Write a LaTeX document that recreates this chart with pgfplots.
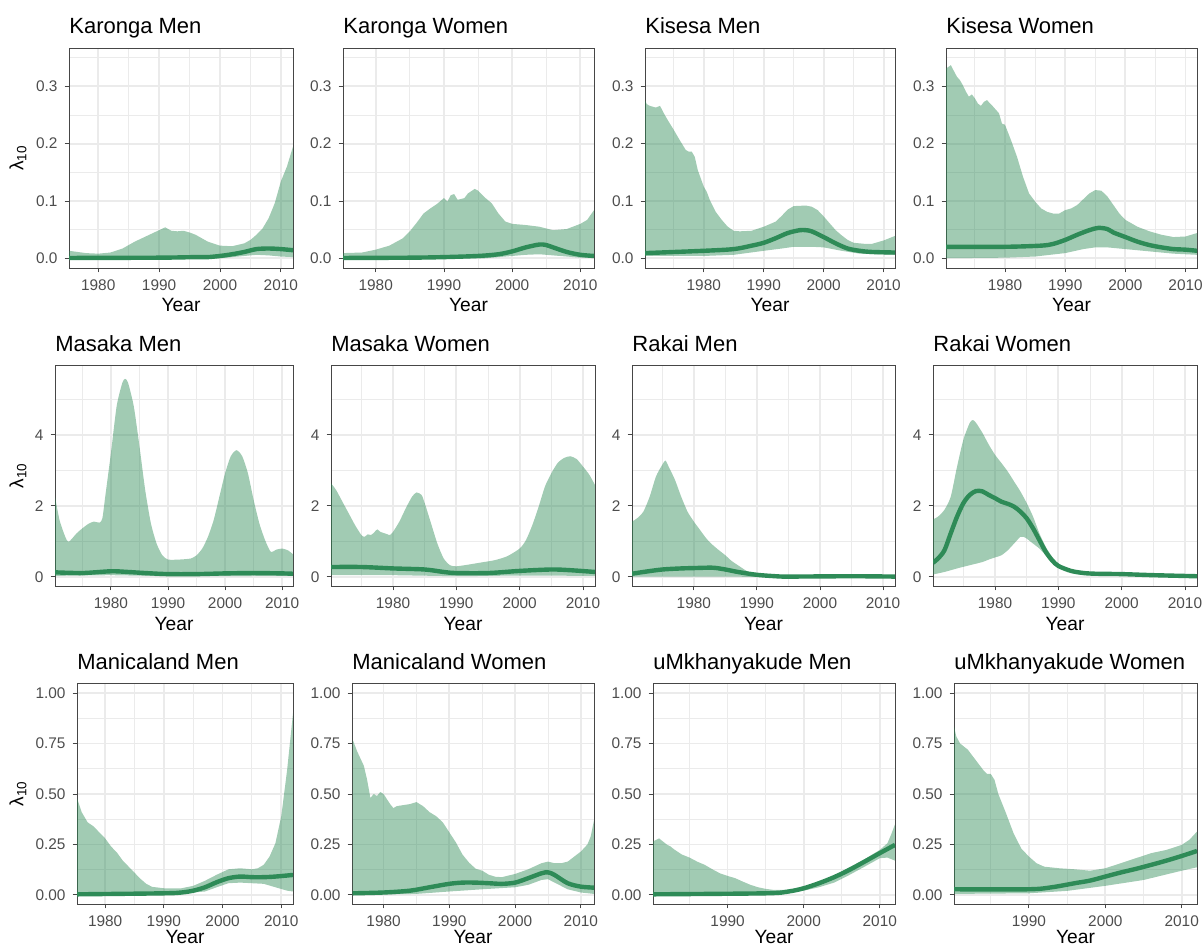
\documentclass[border=0pt]{standalone}
\usepackage{fontspec}
\setmainfont{Liberation Sans}
\usepackage{pgfplots}
\pgfplotsset{compat=1.18}
\usepgfplotslibrary{fillbetween}
\definecolor{sg}{RGB}{46,139,87}
\definecolor{gridc}{RGB}{235,235,235}
\definecolor{g20}{RGB}{70,70,70}
\definecolor{g30}{RGB}{77,77,77}
\pgfplotsset{
  panel/.style={scale only axis, anchor=south west, clip=true,
    grid=both,
    major grid style={draw=gridc, line width=0.9pt},
    minor grid style={draw=gridc, line width=0.45pt},
    axis line style={draw=g20, line width=0.45pt},
    tick style={draw=g20, line width=0.45pt},
    major tick length=2.2pt, minor tick length=0pt, tick align=outside,
    xtick pos=bottom, ytick pos=left,
    tick label style={font=\fontsize{7.7}{9}\selectfont, text=g30},
    xticklabel style={/pgf/number format/1000 sep={}},
    /pgf/number format/assume math mode=true,
    title style={at={(axis description cs:0,1)}, anchor=base west, inner sep=0pt, yshift=1pt, font=\fontsize{11}{13}\selectfont},
    xlabel={Year},
    xlabel style={at={(axis description cs:0.5,0)}, anchor=base, inner sep=0pt, yshift=-22pt, font=\fontsize{9.6}{11}\selectfont},
  },
  lowrow/.style={xlabel style={yshift=2.5pt}},
  lam/.style={ylabel={λ\textsubscript{10}},
    ylabel style={at={([xshift=-#1]axis description cs:0,0.5)}, anchor=center, inner sep=0pt, font=\fontsize{9.6}{11}\selectfont}},
  rowA/.style={ymin=-0.017, ymax=0.367, ytick={0,0.1,0.2,0.3}, minor ytick={0.05,0.15,0.25,0.35},
    yticklabel style={/pgf/number format/.cd, fixed, fixed zerofill, precision=1}},
  rowB/.style={ymin=-0.255, ymax=5.97, ytick={0,2,4}, minor ytick={1,3,5}},
  rowC/.style={ymin=-0.045, ymax=1.05, ytick={0,0.25,0.5,0.75,1}, minor ytick={0.125,0.375,0.625,0.875},
    yticklabel style={/pgf/number format/.cd, fixed, fixed zerofill, precision=2}, lowrow},
  x75/.style={xmin=1975.2, xmax=2012, xtick={1980,1990,2000,2010}, minor xtick={1985,1995,2005}},
  x70/.style={xmin=1970.2, xmax=2011.9, xtick={1980,1990,2000,2010}, minor xtick={1975,1985,1995,2005}},
  x80/.style={xmin=1980.2, xmax=2012, xtick={1990,2000,2010}, minor xtick={1985,1995,2005}},
  bnd/.style={draw=none, fill=sg, fill opacity=0.45},
  med/.style={draw=sg, line width=2.2pt, smooth, tension=0.5},
}
\begin{document}
\begin{tikzpicture}
% ---------------- Row 1 ----------------
\begin{axis}[panel, rowA, x75, lam=25.5pt, at={(34.5pt,340pt)}, width=112pt, height=110pt, title={Karonga Men}]
\addplot[name path=u1, draw=none] coordinates {(1975.2,0.013)(1978,0.009)(1980,0.008)(1982,0.010)(1984,0.017)(1986,0.029)(1988,0.039)(1989,0.044)(1990,0.049)(1991,0.054)(1992,0.048)(1993,0.047)(1994,0.048)(1995,0.045)(1996,0.041)(1998,0.029)(2000,0.022)(2002,0.021)(2004,0.026)(2005,0.032)(2006,0.041)(2007,0.052)(2008,0.070)(2009,0.096)(2010,0.134)(2011,0.160)(2012,0.195)};
\addplot[name path=l1, draw=none] coordinates {(1975.2,0)(2000,0.0)(2002,0.002)(2004,0.004)(2006,0.006)(2008,0.005)(2010,0.003)(2012,0.002)};
\addplot[bnd] fill between[of=u1 and l1];
\addplot[med] coordinates {(1975.2,0.0005)(1990,0.001)(1996,0.002)(1998,0.002)(2000,0.004)(2002,0.007)(2004,0.011)(2006,0.016)(2008,0.017)(2010,0.016)(2012,0.014)};
\end{axis}
\begin{axis}[panel, rowA, x75, at={(171.5pt,340pt)}, width=125.5pt, height=110pt, title={Karonga Women}]
\addplot[name path=u2, draw=none] coordinates {(1975.2,0.009)(1978,0.010)(1980,0.015)(1982,0.022)(1984,0.035)(1985,0.047)(1986,0.062)(1987,0.078)(1988,0.087)(1989,0.095)(1990,0.105)(1990.5,0.099)(1991,0.110)(1991.5,0.112)(1992,0.102)(1993,0.105)(1993.5,0.113)(1994.5,0.121)(1995,0.118)(1996,0.106)(1997,0.096)(1998,0.078)(1999,0.064)(2000,0.060)(2002,0.058)(2004,0.055)(2006,0.049)(2008,0.051)(2010,0.060)(2011,0.067)(2012,0.084)};
\addplot[name path=l2, draw=none] coordinates {(1975.2,0)(1996,0)(1998,0.002)(2000,0.004)(2002,0.006)(2004,0.007)(2006,0.005)(2008,0.003)(2010,0.001)(2012,0.001)};
\addplot[bnd] fill between[of=u2 and l2];
\addplot[med] coordinates {(1975.2,0.0005)(1985,0.001)(1990,0.002)(1995,0.004)(1998,0.007)(2000,0.012)(2002,0.019)(2004,0.024)(2005,0.023)(2006,0.019)(2008,0.011)(2010,0.006)(2012,0.004)};
\end{axis}
\begin{axis}[panel, rowA, x70, at={(322.5pt,340pt)}, width=125pt, height=110pt, title={Kisesa Men}]
\addplot[name path=u3, draw=none] coordinates {(1970.2,0.276)(1970.5,0.269)(1971,0.266)(1972,0.263)(1972.7,0.266)(1973.5,0.250)(1974,0.241)(1975,0.224)(1976,0.206)(1977,0.189)(1977.5,0.186)(1978,0.186)(1978.5,0.177)(1979,0.154)(1980,0.125)(1980.5,0.116)(1981,0.102)(1982,0.081)(1983,0.067)(1984,0.055)(1985,0.048)(1986,0.047)(1988,0.048)(1990,0.055)(1992,0.064)(1993,0.074)(1994,0.085)(1995,0.091)(1997,0.092)(1998,0.090)(1999,0.084)(2000,0.073)(2001,0.061)(2002,0.049)(2003,0.040)(2004,0.032)(2005,0.027)(2007,0.025)(2008,0.025)(2010,0.031)(2011.9,0.039)};
\addplot[name path=l3, draw=none] coordinates {(1970.2,0.004)(1980,0.004)(1985,0.006)(1990,0.013)(1993,0.017)(1995,0.020)(1998,0.020)(2000,0.019)(2003,0.013)(2006,0.008)(2011.9,0.006)};
\addplot[bnd] fill between[of=u3 and l3];
\addplot[med] coordinates {(1970.2,0.009)(1980,0.013)(1985,0.016)(1988,0.022)(1990,0.027)(1992,0.035)(1994,0.044)(1996,0.049)(1997,0.049)(1998,0.047)(2000,0.037)(2002,0.026)(2004,0.017)(2006,0.013)(2008,0.011)(2011.9,0.010)};
\end{axis}
\begin{axis}[panel, rowA, x70, at={(473pt,340pt)}, width=125.5pt, height=110pt, title={Kisesa Women}]
\addplot[name path=u4, draw=none] coordinates {(1970.2,0.331)(1971,0.337)(1972,0.317)(1972.5,0.311)(1973,0.302)(1973.5,0.291)(1974,0.282)(1974.5,0.286)(1975,0.279)(1975.5,0.270)(1976,0.266)(1976.5,0.273)(1977,0.276)(1978,0.265)(1979,0.253)(1979.5,0.235)(1980,0.233)(1981,0.206)(1982,0.177)(1983,0.142)(1984,0.113)(1985,0.099)(1986,0.087)(1987,0.081)(1988,0.078)(1989,0.078)(1990,0.084)(1991,0.087)(1992,0.093)(1993,0.103)(1994,0.113)(1995,0.119)(1996,0.118)(1997,0.108)(1998,0.093)(1999,0.078)(2000,0.067)(2002,0.055)(2004,0.047)(2006,0.041)(2008,0.037)(2010,0.038)(2011.9,0.044)};
\addplot[name path=l4, draw=none] coordinates {(1970.2,0.0)(1980,0.001)(1985,0.003)(1990,0.009)(1993,0.016)(1995,0.019)(1997,0.019)(2000,0.016)(2004,0.012)(2008,0.008)(2011.9,0.006)};
\addplot[bnd] fill between[of=u4 and l4];
\addplot[med] coordinates {(1970.2,0.020)(1980,0.020)(1986,0.022)(1988,0.025)(1990,0.032)(1992,0.041)(1994,0.049)(1995.5,0.053)(1997,0.051)(1998,0.045)(2000,0.037)(2002,0.029)(2004,0.023)(2006,0.019)(2008,0.016)(2010,0.015)(2011.9,0.013)};
\end{axis}
% ---------------- Row 2 ----------------
\begin{axis}[panel, rowB, x70, lam=18.5pt, at={(27.5pt,181pt)}, width=119pt, height=110.5pt, title={Masaka Men}]
\addplot[name path=u5, draw=none, smooth, tension=0.4] coordinates {(1970.2,2.26)(1971,1.60)(1972,1.13)(1972.6,0.99)(1974,1.23)(1975,1.37)(1976,1.49)(1977,1.56)(1978,1.53)(1978.5,1.65)(1979,2.26)(1980,3.49)(1981,4.81)(1982,5.47)(1982.5,5.58)(1983,5.47)(1984,4.81)(1985,3.68)(1986,2.45)(1987,1.51)(1988,0.94)(1989,0.61)(1990,0.49)(1992,0.49)(1994,0.52)(1995,0.61)(1996,0.80)(1997,1.13)(1998,1.60)(1999,2.26)(2000,2.92)(2001,3.40)(2002,3.57)(2003,3.40)(2004,2.92)(2005,2.17)(2006,1.51)(2007,1.04)(2008,0.71)(2009,0.77)(2010,0.80)(2011,0.75)(2011.9,0.64)};
\addplot[name path=l5, draw=none] coordinates {(1970.2,0.03)(1980,0.05)(1990,0.02)(2011.9,0.03)};
\addplot[bnd] fill between[of=u5 and l5];
\addplot[med] coordinates {(1970.2,0.13)(1975,0.11)(1980,0.16)(1983,0.14)(1986,0.11)(1990,0.08)(1995,0.08)(2000,0.10)(2005,0.11)(2010,0.10)(2011.9,0.09)};
\end{axis}
\begin{axis}[panel, rowB, x70, at={(165.5pt,181pt)}, width=132pt, height=110.5pt, title={Masaka Women}]
\addplot[name path=u6, draw=none, smooth, tension=0.4] coordinates {(1970.2,2.64)(1971,2.45)(1972,2.12)(1973,1.79)(1974,1.46)(1975,1.18)(1975.5,1.13)(1976,1.20)(1976.5,1.18)(1977,1.25)(1977.5,1.34)(1978,1.27)(1979,1.21)(1979.5,1.18)(1980,1.27)(1981,1.56)(1982,1.93)(1983,2.26)(1983.7,2.38)(1984.5,2.31)(1985,2.08)(1986,1.51)(1987,0.94)(1988,0.52)(1989,0.33)(1990,0.30)(1992,0.35)(1994,0.41)(1996,0.47)(1998,0.58)(2000,0.80)(2001,1.04)(2002,1.46)(2003,1.98)(2004,2.55)(2005,2.92)(2006,3.21)(2007,3.35)(2008,3.40)(2009,3.32)(2010,3.11)(2011,2.88)(2011.9,2.59)};
\addplot[name path=l6, draw=none] coordinates {(1970.2,0.05)(1980,0.05)(1990,0.02)(2000,0.04)(2011.9,0.03)};
\addplot[bnd] fill between[of=u6 and l6];
\addplot[med] coordinates {(1970.2,0.28)(1975,0.28)(1980,0.24)(1985,0.21)(1988,0.14)(1990,0.11)(1995,0.11)(2000,0.17)(2005,0.21)(2008,0.19)(2011.9,0.14)};
\end{axis}
\begin{axis}[panel, rowB, x70, at={(316pt,181pt)}, width=131.5pt, height=110.5pt, title={Rakai Men}]
\addplot[name path=u7, draw=none, smooth, tension=0.4] coordinates {(1970.2,1.56)(1971,1.65)(1972,1.84)(1973,2.26)(1974,2.83)(1975,3.16)(1975.5,3.28)(1976,3.11)(1977,2.74)(1978,2.26)(1979,1.84)(1980,1.56)(1981,1.32)(1982,1.08)(1983,0.90)(1984,0.75)(1985,0.61)(1986,0.45)(1987,0.33)(1988,0.21)(1989,0.11)(1990,0.08)(1992,0.03)(1995,0.01)(2011.9,0.01)};
\addplot[name path=l7, draw=none] coordinates {(1970.2,0.01)(1990,0.005)(2011.9,0.0)};
\addplot[bnd] fill between[of=u7 and l7];
\addplot[med] coordinates {(1970.2,0.09)(1972,0.14)(1975,0.21)(1978,0.24)(1980,0.25)(1983,0.26)(1985,0.21)(1987,0.14)(1990,0.06)(1993,0.02)(1995,0.01)(2005,0.02)(2011.9,0.01)};
\end{axis}
\begin{axis}[panel, rowB, x70, at={(466.5pt,181pt)}, width=132pt, height=110.5pt, title={Rakai Women}]
\addplot[name path=u8, draw=none, smooth, tension=0.4] coordinates {(1970.2,1.62)(1971,1.70)(1972,1.89)(1973,2.26)(1974,3.11)(1975,3.87)(1976,4.34)(1976.5,4.42)(1977,4.34)(1978,4.06)(1979,3.73)(1980,3.44)(1981,3.21)(1982,2.97)(1983,2.69)(1984,2.41)(1985,2.08)(1986,1.70)(1987,1.23)(1988,0.85)(1989,0.57)(1990,0.38)(1992,0.19)(1994,0.11)(1996,0.09)(2000,0.08)(2005,0.05)(2011.9,0.02)};
\addplot[name path=l8, draw=none, smooth, tension=0.4] coordinates {(1970.2,0.07)(1972,0.14)(1974,0.24)(1976,0.33)(1978,0.42)(1979,0.49)(1980,0.55)(1981,0.61)(1982,0.75)(1983,0.94)(1984,1.13)(1984.5,1.13)(1985,1.08)(1986,0.94)(1987,0.80)(1988,0.61)(1989,0.45)(1990,0.28)(1992,0.14)(1994,0.08)(2000,0.05)(2011.9,0.0)};
\addplot[bnd] fill between[of=u8 and l8];
\addplot[med] coordinates {(1970.2,0.40)(1971,0.52)(1972,0.75)(1973,1.23)(1974,1.70)(1975,2.08)(1976,2.31)(1977,2.42)(1978,2.41)(1979,2.31)(1980,2.22)(1981,2.12)(1982,2.06)(1983,1.98)(1984,1.84)(1985,1.65)(1986,1.37)(1987,1.04)(1988,0.71)(1989,0.47)(1990,0.31)(1992,0.17)(1994,0.11)(1996,0.09)(2000,0.08)(2005,0.05)(2011.9,0.02)};
\end{axis}
% ---------------- Row 3 ----------------
\begin{axis}[panel, rowC, x75, lam=29.5pt, at={(38.5pt,22pt)}, width=108pt, height=110.5pt, title={Manicaland Men}]
\addplot[name path=u9, draw=none] coordinates {(1975.2,0.48)(1976,0.41)(1977,0.36)(1978,0.34)(1979,0.31)(1980,0.28)(1981,0.24)(1982,0.21)(1983,0.17)(1984,0.14)(1985,0.11)(1986,0.08)(1987,0.055)(1988,0.04)(1990,0.033)(1993,0.033)(1995,0.045)(1997,0.07)(1999,0.10)(2001,0.127)(2003,0.132)(2005,0.127)(2006,0.132)(2007,0.149)(2008,0.19)(2009,0.256)(2010,0.39)(2011,0.62)(2012,0.90)};
\addplot[name path=l9, draw=none] coordinates {(1975.2,0)(1990,0)(1993,0.004)(1995,0.012)(1997,0.017)(1999,0.038)(2001,0.058)(2003,0.061)(2005,0.058)(2007,0.055)(2009,0.038)(2011,0.021)(2012,0.017)};
\addplot[bnd] fill between[of=u9 and l9];
\addplot[med] coordinates {(1975.2,0.003)(1990,0.008)(1993,0.012)(1995,0.021)(1997,0.038)(1999,0.063)(2001,0.083)(2003,0.091)(2005,0.088)(2007,0.088)(2009,0.091)(2012,0.099)};
\end{axis}
\begin{axis}[panel, rowC, x75, at={(176pt,22pt)}, width=121pt, height=110.5pt, title={Manicaland Women}]
\addplot[name path=u10, draw=none] coordinates {(1975.3,0.77)(1976,0.71)(1977,0.64)(1977.5,0.57)(1978,0.48)(1978.5,0.50)(1979,0.49)(1979.5,0.51)(1980,0.50)(1981,0.45)(1981.5,0.43)(1982,0.44)(1984,0.45)(1985,0.46)(1986,0.44)(1987,0.41)(1988,0.39)(1989,0.36)(1990,0.31)(1991,0.26)(1992,0.20)(1993,0.16)(1994,0.13)(1995,0.12)(1996,0.10)(1997,0.09)(1998,0.088)(2000,0.104)(2002,0.127)(2004,0.157)(2005,0.165)(2006,0.157)(2007,0.157)(2008,0.165)(2009,0.19)(2010,0.215)(2011,0.25)(2011.5,0.29)(2012,0.37)};
\addplot[name path=l10, draw=none] coordinates {(1975.3,0)(1985,0.005)(1990,0.017)(1995,0.028)(2000,0.038)(2002,0.05)(2004,0.074)(2005,0.078)(2006,0.061)(2008,0.028)(2010,0.012)(2012,0.005)};
\addplot[bnd] fill between[of=u10 and l10];
\addplot[med] coordinates {(1975.3,0.008)(1980,0.012)(1984,0.021)(1987,0.038)(1990,0.055)(1992,0.061)(1994,0.061)(1996,0.058)(1998,0.055)(2000,0.061)(2002,0.083)(2004,0.107)(2005,0.112)(2006,0.099)(2008,0.058)(2010,0.041)(2012,0.036)};
\end{axis}
\begin{axis}[panel, rowC, x80, at={(326.5pt,22pt)}, width=121pt, height=110.5pt, title={uMkhanyakude Men}]
\addplot[name path=u11, draw=none] coordinates {(1980.2,0.265)(1981,0.28)(1982,0.25)(1982.5,0.24)(1983,0.225)(1984,0.20)(1985,0.185)(1986,0.165)(1987,0.149)(1988,0.127)(1989,0.107)(1990,0.094)(1991,0.083)(1992,0.066)(1993,0.05)(1994,0.038)(1995,0.03)(1996,0.025)(1998,0.025)(2000,0.033)(2002,0.058)(2004,0.094)(2006,0.137)(2008,0.177)(2010,0.223)(2011,0.256)(2011.5,0.30)(2012,0.35)};
\addplot[name path=l11, draw=none] coordinates {(1980.2,0)(1996,0)(1998,0.008)(2000,0.021)(2002,0.038)(2004,0.061)(2006,0.099)(2008,0.14)(2010,0.182)(2011,0.185)(2012,0.17)};
\addplot[bnd] fill between[of=u11 and l11];
\addplot[med] coordinates {(1980.2,0.003)(1995,0.008)(1998,0.017)(2000,0.033)(2002,0.058)(2004,0.088)(2006,0.124)(2008,0.165)(2010,0.207)(2012,0.248)};
\end{axis}
\begin{axis}[panel, rowC, x80, at={(477pt,22pt)}, width=121.5pt, height=110.5pt, title={uMkhanyakude Women}]
\addplot[name path=u12, draw=none] coordinates {(1980.2,0.835)(1980.5,0.785)(1981,0.75)(1982,0.72)(1983,0.67)(1984,0.62)(1984.5,0.60)(1985,0.60)(1985.5,0.57)(1986,0.50)(1987,0.405)(1988,0.305)(1989,0.23)(1990,0.19)(1991,0.157)(1992,0.14)(1994,0.132)(1996,0.127)(1998,0.12)(2000,0.132)(2002,0.157)(2004,0.182)(2006,0.207)(2008,0.223)(2010,0.248)(2011,0.273)(2012,0.314)};
\addplot[name path=l12, draw=none] coordinates {(1980.2,0.005)(1990,0.008)(1995,0.02)(2000,0.045)(2005,0.074)(2010,0.12)(2012,0.137)};
\addplot[bnd] fill between[of=u12 and l12];
\addplot[med] coordinates {(1980.2,0.028)(1990,0.028)(1993,0.038)(1996,0.058)(1998,0.071)(2000,0.091)(2002,0.111)(2004,0.129)(2006,0.149)(2008,0.17)(2010,0.193)(2012,0.218)};
\end{axis}
\pgfresetboundingbox
\path[use as bounding box] (0,0) rectangle (601pt,474pt);
\end{tikzpicture}
\end{document}
